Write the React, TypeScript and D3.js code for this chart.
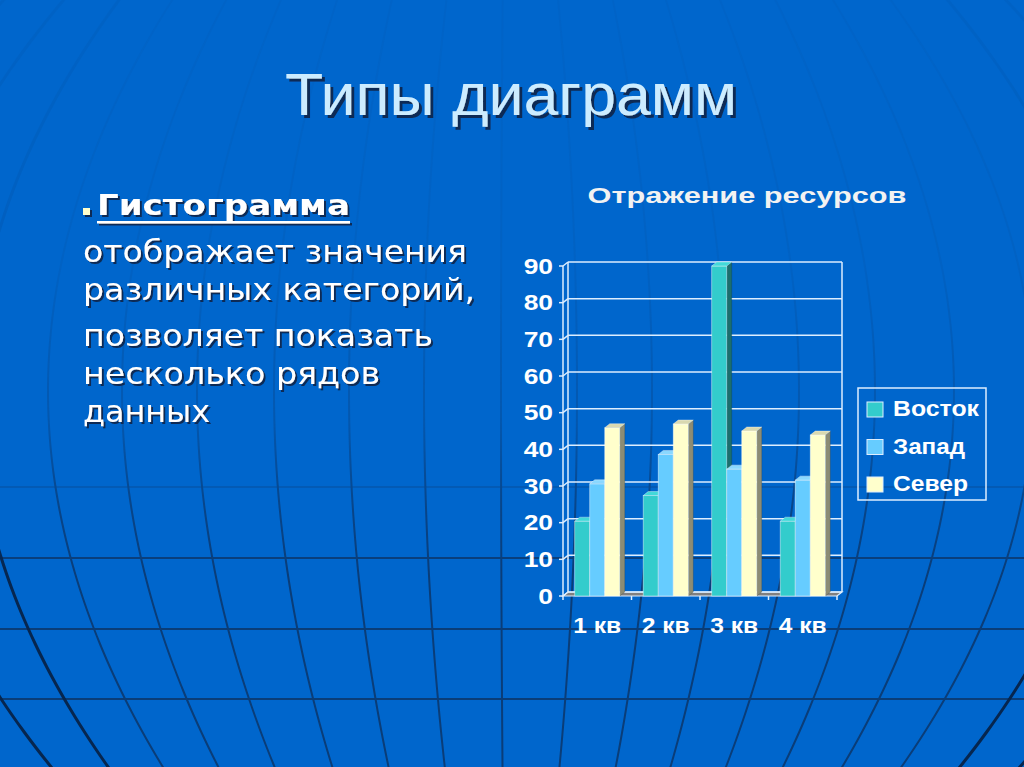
import React from "react";
import * as d3 from "d3";

// ---- data ----
const categories = ["1 кв", "2 кв", "3 кв", "4 кв"];
const seriesNames = ["Восток", "Запад", "Север"];
const vostokValues = [20.4, 27.4, 90, 20.4];
const zapadValues = [30.6, 38.6, 34.6, 31.6];
const severValues = [45.9, 46.9, 45, 43.9];
const yTickValues = [0, 10, 20, 30, 40, 50, 60, 70, 80, 90];
const chartTitle = "Отражение ресурсов";
const slideTitle = "Типы диаграмм";
const bulletHead = "Гистограмма";
const bodyLines = [
  "отображает значения",
  "различных категорий,",
  "позволяет показать",
  "несколько рядов",
  "данных",
];

// ---- styling / layout ----
const seriesFill = ["#33CCCC", "#66CCFF", "#FFFFCC"];
const seriesSide = ["#1B6E6E", "#3E86B0", "#8C8C74"];
const seriesTop = ["#42D9D9", "#8AD8FF", "#D9D9B0"];
const bodyBaselines = [262, 300, 346, 384, 422];
const bodyWidths = [384, 392, 350, 297, 127];
const meridianBases = [-690, -608, -532, -459, -385, -310, -233, -158, -83, -6, 70, 145, 218, 292, 368, 447, 526, 604, 684];
const parallelYs = [487, 558, 629, 699];

const chartFont = "'Liberation Sans', Arial, sans-serif";
const bodyFont = "'DejaVu Sans', Verdana, sans-serif";

export default function App() {
  const W = 1024;
  const H = 767;
  const seriesValues = [vostokValues, zapadValues, severValues];

  const y = d3.scaleLinear().domain([0, 90]).range([596, 266]);
  const x = d3.scaleBand().domain(categories).range([563, 837]);
  const inner = d3
    .scaleBand()
    .domain(seriesNames)
    .range([0, x.bandwidth()])
    .paddingOuter(0.78)
    .paddingInner(0);
  const dx = 5;
  const dy = -4;
  const x0 = x.range()[0];
  const x1 = x.range()[1];
  const yBase = y(0);
  const yTop = y(90);

  // background meridians (sphere-like curved lines)
  const cx = 507;
  const y0 = 391;
  const k = 1.77e-6;
  const ys = d3.range(-20, 800, 8);
  const meridianPath = (b: number) =>
    d3
      .line<number>()
      .x((yy) => cx + b * (1 - k * (yy - y0) * (yy - y0)))
      .y((yy) => yy)
      .curve(d3.curveBasis)(ys) as string;

  const pts = (arr: [number, number][]) => arr.map((p) => p.join(",")).join(" ");
  const wallStroke = "#DDEEFF";

  return (
    <svg
      width={W}
      height={H}
      viewBox={`0 0 ${W} ${H}`}
      style={{ position: "absolute", left: 0, top: 0, display: "block" }}
    >
      <defs>
        <linearGradient id="fadeGrad" x1="0" y1="0" x2="0" y2="1">
          <stop offset="0" stopColor="#fff" stopOpacity={0.05} />
          <stop offset="0.35" stopColor="#fff" stopOpacity={0.1} />
          <stop offset="0.55" stopColor="#fff" stopOpacity={0.35} />
          <stop offset="0.66" stopColor="#fff" stopOpacity={0.8} />
          <stop offset="0.75" stopColor="#fff" stopOpacity={1} />
          <stop offset="1" stopColor="#fff" stopOpacity={1} />
        </linearGradient>
        <mask id="fadeMask" maskUnits="userSpaceOnUse" x="0" y="0" width={W} height={H}>
          <rect x={0} y={0} width={W} height={H} fill="url(#fadeGrad)" />
        </mask>
        <filter id="shadowTitle" x="-10%" y="-10%" width="120%" height="130%">
          <feDropShadow dx={3} dy={3} stdDeviation={0.6} floodColor="#0B2A55" floodOpacity={1} />
        </filter>
        <filter id="shadowBody" x="-10%" y="-10%" width="120%" height="130%">
          <feDropShadow dx={2} dy={2} stdDeviation={0.5} floodColor="#0B2A55" floodOpacity={1} />
        </filter>
      </defs>

      {/* background */}
      <rect x={0} y={0} width={W} height={H} fill="#0066CC" />
      <g mask="url(#fadeMask)" fill="none">
        {parallelYs.map((py) => (
          <line
            key={py}
            x1={0}
            x2={W}
            y1={py}
            y2={py}
            stroke="#0A3D78"
            strokeWidth={2}
            strokeOpacity={py < 500 ? 0.4 : 1}
          />
        ))}
        {meridianBases.map((b) => (
          <path
            key={b}
            d={meridianPath(b)}
            stroke={Math.abs(b) >= 530 ? "#06264F" : "#0A3D78"}
            strokeWidth={Math.abs(b) >= 530 ? 3 : 2}
          />
        ))}
      </g>

      {/* slide title */}
      <text
        x={511}
        y={115}
        fontFamily={chartFont}
        fontSize={60}
        textAnchor="middle"
        fill="#CCECFF"
        textLength={452}
        lengthAdjust="spacingAndGlyphs"
        filter="url(#shadowTitle)"
      >
        {slideTitle}
      </text>

      {/* left body text */}
      <g fontFamily={bodyFont} filter="url(#shadowBody)">
        <rect x={83} y={208} width={7} height={7} fill="#FFFFCC" />
        <text
          x={97}
          y={215}
          fill="#FFFFFF"
          fontWeight="bold"
          fontSize={28}
          textLength={253}
          lengthAdjust="spacingAndGlyphs"
        >
          {bulletHead}
        </text>
        <rect x={97} y={221} width={253} height={2.5} fill="#FFFFFF" />
        <g fontSize={30} fill="#FFFFFF">
          {bodyLines.map((t, i) => (
            <text
              key={t}
              x={83}
              y={bodyBaselines[i]}
              textLength={bodyWidths[i]}
              lengthAdjust="spacingAndGlyphs"
            >
              {t}
            </text>
          ))}
        </g>
      </g>

      {/* chart title */}
      <text
        x={747}
        y={203}
        textAnchor="middle"
        fontFamily={chartFont}
        fontWeight="bold"
        fontSize={22}
        fill="#F2F2F2"
        textLength={319}
        lengthAdjust="spacingAndGlyphs"
      >
        {chartTitle}
      </text>

      {/* floor */}
      <polygon
        points={pts([
          [x0, yBase],
          [x1, yBase],
          [x1 + dx, yBase + dy],
          [x0 + dx, yBase + dy],
        ])}
        fill="#808080"
        stroke={wallStroke}
        strokeWidth={1.2}
      />

      {/* walls & gridlines */}
      <g stroke={wallStroke} strokeWidth={1.5} fill="none">
        {yTickValues.map((v) => (
          <g key={v}>
            <line x1={x0} y1={y(v)} x2={x0 + dx} y2={y(v) + dy} />
            <line x1={x0 + dx} y1={y(v) + dy} x2={x1 + dx} y2={y(v) + dy} />
            <line x1={x0 - 4} y1={y(v)} x2={x0} y2={y(v)} />
          </g>
        ))}
        <line x1={x0} y1={yBase} x2={x0} y2={yTop} />
        <line x1={x0 + dx} y1={yBase + dy} x2={x0 + dx} y2={yTop + dy} />
        <line x1={x1 + dx} y1={yBase + dy} x2={x1 + dx} y2={yTop + dy} />
        {categories.concat([""]).map((c, i) => {
          const xx = i < categories.length ? (x(c) as number) : x1;
          return <line key={"t" + i} x1={xx} y1={yBase} x2={xx} y2={yBase + 4} />;
        })}
      </g>

      {/* bars */}
      {categories.map((c, ci) => (
        <g key={c}>
          {seriesNames.map((s, si) => {
            const v = seriesValues[si][ci];
            const bx = (x(c) as number) + (inner(s) as number);
            const bw = inner.bandwidth();
            const bt = y(v);
            return (
              <g key={s}>
                <polygon
                  points={pts([
                    [bx + bw, bt],
                    [bx + bw + dx, bt + dy],
                    [bx + bw + dx, yBase + dy],
                    [bx + bw, yBase],
                  ])}
                  fill={seriesSide[si]}
                  stroke="rgba(0,0,0,0.25)"
                  strokeWidth={0.6}
                />
                <rect
                  x={bx}
                  y={bt}
                  width={bw}
                  height={yBase - bt}
                  fill={seriesFill[si]}
                  stroke="rgba(255,255,255,0.55)"
                  strokeWidth={0.8}
                />
                <polygon
                  points={pts([
                    [bx, bt],
                    [bx + dx, bt + dy],
                    [bx + bw + dx, bt + dy],
                    [bx + bw, bt],
                  ])}
                  fill={seriesTop[si]}
                  stroke="rgba(255,255,255,0.6)"
                  strokeWidth={0.6}
                />
              </g>
            );
          })}
        </g>
      ))}

      {/* tick labels */}
      <g fontFamily={chartFont} fontWeight="bold" fontSize={22} fill="#FFFFFF">
        {yTickValues.map((v) => (
          <text
            key={v}
            transform={`translate(553,${y(v)}) scale(1.2,1)`}
            textAnchor="end"
            dominantBaseline="central"
          >
            {v}
          </text>
        ))}
        {categories.map((c) => (
          <text
            key={c}
            transform={`translate(${(x(c) as number) + x.bandwidth() / 2},633) scale(1.12,1)`}
            textAnchor="middle"
          >
            {c}
          </text>
        ))}
      </g>

      {/* legend */}
      <g fontFamily={chartFont} fontWeight="bold" fontSize={22}>
        <rect x={858} y={388} width={128} height={112} fill="none" stroke={wallStroke} strokeWidth={1.5} />
        {seriesNames.map((s, i) => (
          <g key={s}>
            <rect
              x={867}
              y={402 + i * 37.5}
              width={16}
              height={15}
              fill={seriesFill[i]}
              stroke="#DDEEFF"
              strokeWidth={1}
            />
            <text
              x={893}
              y={416 + i * 37.5}
              fill="#FFFFFF"
              textLength={[86, 72, 75][i]}
              lengthAdjust="spacingAndGlyphs"
            >
              {s}
            </text>
          </g>
        ))}
      </g>
    </svg>
  );
}
